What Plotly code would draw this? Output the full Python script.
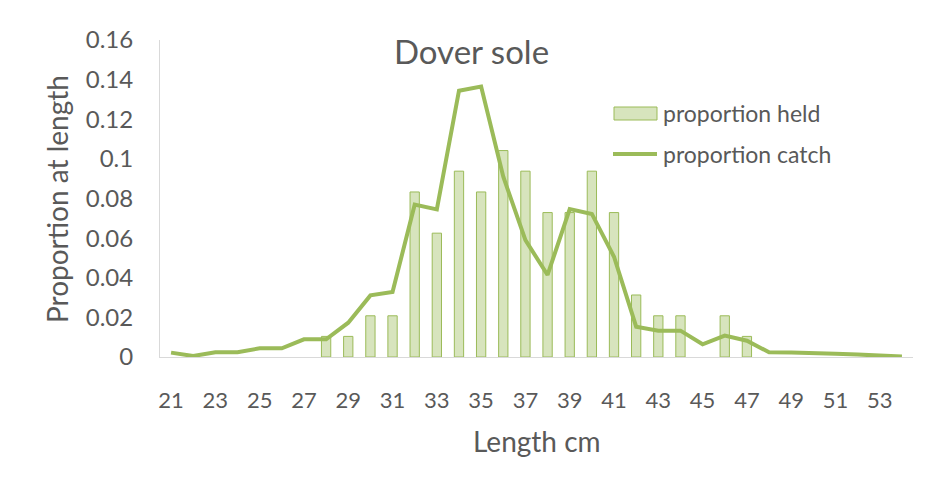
import plotly.graph_objects as go

lengths = list(range(21, 55))
held = [0, 0, 0, 0, 0, 0, 0, 0.0104, 0.0104, 0.0208, 0.0208, 0.0833, 0.0625, 0.0938,
        0.0833, 0.1042, 0.0938, 0.0729, 0.0729, 0.0938, 0.0729, 0.0313, 0.0208, 0.0208,
        0, 0.0208, 0.0104, 0, 0, 0, 0, 0, 0, 0]
catch = [0.0022, 0.0005, 0.0024, 0.0024, 0.0044, 0.0044, 0.0089, 0.0089, 0.0173, 0.0311,
         0.0328, 0.0769, 0.0745, 0.1344, 0.1365, 0.0910, 0.0590, 0.0414, 0.0747, 0.0722,
         0.0506, 0.0153, 0.0133, 0.0133, 0.0064, 0.0108, 0.0082, 0.0024, 0.0023, 0.0022,
         0.0017, 0.0012, 0.0007, 0.0003]
x_ticks = list(range(21, 54, 2))
y_ticks = [0, 0.02, 0.04, 0.06, 0.08, 0.1, 0.12, 0.14, 0.16]
y_tick_text = ["0", "0.02", "0.04", "0.06", "0.08", "0.1", "0.12", "0.14", "0.16"]

held_x = [l for l, h in zip(lengths, held) if h > 0]
held_y = [h for h in held if h > 0]

# page body has an 8px default margin: figure is drawn 8px right/down
OFF = 8
W, H = 932 - OFF, 481 - OFF
# target screen coordinates of plot area
SL, SR, ST, SB = 160, 913, 40, 357
L, R, T, B = SL - OFF, W - (SR - OFF), ST - OFF, H - (SB - OFF)
FONT = "Lato"
GRAY = "#595959"
GREEN = "#9bbb59"
LIGHT = "#d7e4bd"


def px(x):
    return (x - SL) / (SR - SL)


def py(y):
    return (SB - y) / (SB - ST)


fig = go.Figure()
fig.add_trace(go.Bar(
    x=held_x, y=held_y, name="proportion held", width=0.42,
    marker=dict(color=LIGHT, line=dict(color=GREEN, width=1)),
))
fig.add_trace(go.Scatter(
    x=lengths, y=catch, name="proportion catch", mode="lines",
    line=dict(color=GREEN, width=4),
))

annotations = [
    dict(text="Dover sole", x=px(471), y=py(51), font=dict(size=33, color=GRAY, family=FONT)),
    dict(text="Proportion at length", x=px(57), y=py(199), textangle=-90,
         font=dict(size=28, color=GRAY, family=FONT)),
    dict(text="Length cm", x=px(537), y=py(441), font=dict(size=28, color=GRAY, family=FONT)),
    dict(text="proportion held", x=px(661), y=py(113), xanchor="left",
         font=dict(size=23, color=GRAY, family=FONT)),
    dict(text="proportion catch", x=px(661), y=py(154), xanchor="left",
         font=dict(size=23, color=GRAY, family=FONT)),
]
for a in annotations:
    a.setdefault("xanchor", "center")
    a.update(xref="paper", yref="paper", yanchor="middle", showarrow=False)

shapes = [
    dict(type="rect", xref="paper", yref="paper", x0=px(614), x1=px(657), y0=py(120), y1=py(107),
         fillcolor=LIGHT, line=dict(color=GREEN, width=1)),
    dict(type="line", xref="paper", yref="paper", x0=px(613), x1=px(657), y0=py(154), y1=py(154),
         line=dict(color=GREEN, width=4)),
]

fig.update_layout(
    width=W, height=H,
    margin=dict(l=L, r=R, t=T, b=B, autoexpand=False),
    plot_bgcolor="white", paper_bgcolor="white",
    font=dict(family=FONT, color=GRAY),
    showlegend=False,
    annotations=annotations,
    shapes=shapes,
)

fig.update_xaxes(
    range=[20.5, 54.5], tickmode="array", tickvals=x_ticks,
    ticktext=[str(v) for v in x_ticks],
    tickfont=dict(size=22, color=GRAY, family=FONT),
    showline=True, linecolor="#d9d9d9", linewidth=1, showgrid=False, zeroline=False,
    ticks="", ticklabelstandoff=24, automargin=False,
)
fig.update_yaxes(
    range=[0, 0.16], tickmode="array", tickvals=y_ticks, ticktext=y_tick_text,
    tickfont=dict(size=24, color=GRAY, family=FONT),
    showline=True, linecolor="#d9d9d9", linewidth=1, showgrid=False, zeroline=False,
    ticks="", ticklabelstandoff=21, automargin=False,
)

fig.write_html("out.html")
